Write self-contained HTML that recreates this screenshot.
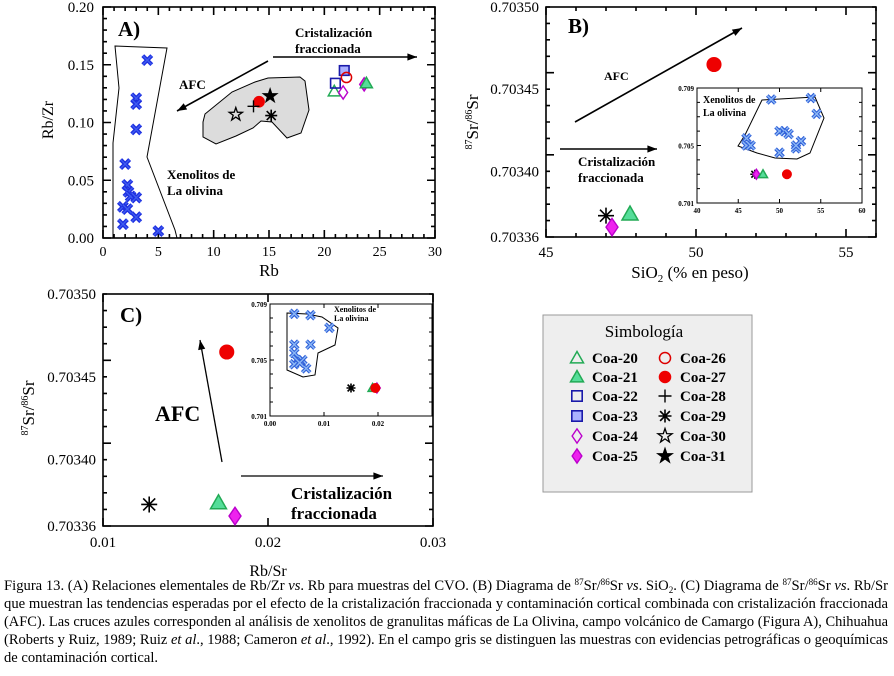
<!DOCTYPE html>
<html><head><meta charset="utf-8">
<style>
html,body{margin:0;padding:0;background:#fff;}
svg{display:block;font-family:"Liberation Serif",serif;}
</style></head>
<body>
<svg id="fig" width="894" height="676" viewBox="0 0 894 676" xmlns="http://www.w3.org/2000/svg">
<g id="layer"></g>
<g>
  <rect x="543" y="315" width="209" height="177" fill="#eeeeee" stroke="#999" stroke-width="1"/>
  <text x="644" y="337" font-size="17" text-anchor="middle">Simbología</text>
  <g id="legendItems"></g>
</g>
<g font-size="14.5" fill="#000">
  <text x="4" y="590" textLength="884" lengthAdjust="spacingAndGlyphs">Figura 13. (A) Relaciones elementales de Rb/Zr <tspan font-style="italic">vs</tspan>. Rb para muestras del CVO. (B) Diagrama de <tspan font-size="9" dy="-5">87</tspan><tspan dy="5">Sr/</tspan><tspan font-size="9" dy="-5">86</tspan><tspan dy="5">Sr </tspan><tspan font-style="italic">vs</tspan>. SiO<tspan font-size="9" dy="3">2</tspan><tspan dy="-3">. (C) Diagrama de </tspan><tspan font-size="9" dy="-5">87</tspan><tspan dy="5">Sr/</tspan><tspan font-size="9" dy="-5">86</tspan><tspan dy="5">Sr </tspan><tspan font-style="italic">vs</tspan>. Rb/Sr</text>
  <text x="4" y="608" textLength="884" lengthAdjust="spacingAndGlyphs">que muestran las tendencias esperadas por el efecto de la cristalización fraccionada y contaminación cortical combinada con cristalización fraccionada</text>
  <text x="4" y="626" textLength="884" lengthAdjust="spacingAndGlyphs">(AFC). Las cruces azules corresponden al análisis de xenolitos de granulitas máficas de La Olivina, campo volcánico de Camargo (Figura A), Chihuahua</text>
  <text x="4" y="644" textLength="884" lengthAdjust="spacingAndGlyphs">(Roberts y Ruiz, 1989; Ruiz <tspan font-style="italic">et al</tspan>., 1988; Cameron <tspan font-style="italic">et al</tspan>., 1992). En el campo gris se distinguen las muestras con evidencias petrográficas o geoquímicas</text>
  <text x="4" y="662" textLength="154" lengthAdjust="spacingAndGlyphs">de contaminación cortical.</text>
</g>
</svg>
<script>
// ---------- DATA ----------
// Panel A: Rb vs Rb/Zr
const aXenoRb   = [4, 3, 3, 3, 2, 2.2, 2.3, 2.5, 3, 1.8, 2.2, 3, 1.8, 5];
const aXenoRbZr = [0.154, 0.121, 0.116, 0.094, 0.064, 0.046, 0.040, 0.036, 0.035, 0.027, 0.025, 0.018, 0.012, 0.006];
const aSamples  = ['Coa-20','Coa-22','Coa-23','Coa-24','Coa-25','Coa-21','Coa-26','Coa-27','Coa-28','Coa-29','Coa-30','Coa-31'];
const aRb       = [20.9, 21.0, 21.8, 21.7, 23.6, 23.8, 22.0, 14.1, 13.6, 15.2, 12.0, 15.1];
const aRbZr     = [0.127, 0.134, 0.145, 0.126, 0.133, 0.134, 0.139, 0.118, 0.114, 0.106, 0.107, 0.123];
// Panel B: SiO2 vs 87Sr/86Sr
const bSamples  = ['Coa-29','Coa-21','Coa-25','Coa-27'];
const bSiO2     = [47.0, 47.8, 47.2, 50.6];
const bSr       = [0.703373, 0.703374, 0.703366, 0.703465];
const bInXenoSi = [46, 46, 46.5, 49, 50, 50.6, 51.1, 50, 52, 52.6, 52, 53.8, 54.5];
const bInXenoSr = [0.7055, 0.7050, 0.7050, 0.7082, 0.7060, 0.7060, 0.7058, 0.7045, 0.7048, 0.7053, 0.7050, 0.7083, 0.7072];
const bInSamples= ['Coa-29','Coa-25','Coa-21','Coa-27'];
const bInSi     = [47.0, 47.2, 48.0, 50.9];
const bInSr     = [0.7030, 0.7030, 0.7030, 0.7030];
// Panel C: Rb/Sr vs 87Sr/86Sr
const cSamples  = ['Coa-29','Coa-21','Coa-25','Coa-27'];
const cRbSr     = [0.0128, 0.0170, 0.0180, 0.0175];
const cSr       = [0.703373, 0.703374, 0.703366, 0.703465];
const cInXenoRbSr=[0.0045, 0.0075, 0.011, 0.0045, 0.0075, 0.0045, 0.005, 0.006, 0.0045, 0.0067, 0.0055];
const cInXenoSr = [0.7083, 0.7082, 0.7073, 0.7061, 0.7061, 0.7055, 0.7050, 0.7050, 0.7047, 0.7044, 0.7048];
const cInSamples= ['Coa-29','Coa-21','Coa-25','Coa-27'];
const cInRbSr   = [0.0150, 0.0190, 0.0198, 0.0195];
const cInSr     = [0.7030, 0.7030, 0.7030, 0.7030];
// Tick labels
const aXTicks = [0,5,10,15,20,25,30];
const aYTicks = [0.00,0.05,0.10,0.15,0.20];
const bXTicks = [45,50,55];
const srTicks = [0.70336,0.70340,0.70345,0.70350];
const cXTicks = [0.01,0.02,0.03];

// ---------- helpers ----------
const NS='http://www.w3.org/2000/svg';
const layer=document.getElementById('layer');
function el(tag,attrs,parent){const e=document.createElementNS(NS,tag);for(const k in attrs)e.setAttribute(k,attrs[k]);(parent||layer).appendChild(e);return e;}
function lin(d0,d1,r0,r1){return v=>r0+(v-d0)*(r1-r0)/(d1-d0);}
const STY={
 'Coa-20':{t:'tri',f:'none',s:'#22aa55'},
 'Coa-21':{t:'tri',f:'#55dd99',s:'#22aa55'},
 'Coa-22':{t:'sq',f:'none',s:'#1a1aaa'},
 'Coa-23':{t:'sq',f:'#aab0ff',s:'#1a1aaa'},
 'Coa-24':{t:'dia',f:'none',s:'#bb00cc'},
 'Coa-25':{t:'dia',f:'#ee22ee',s:'#bb00cc'},
 'Coa-26':{t:'circ',f:'none',s:'#dd0000'},
 'Coa-27':{t:'circ',f:'#ee0000',s:'#ee0000'},
 'Coa-28':{t:'plus',f:'none',s:'#000'},
 'Coa-29':{t:'ast',f:'none',s:'#000'},
 'Coa-30':{t:'star',f:'none',s:'#000'},
 'Coa-31':{t:'star',f:'#000',s:'#000'}
};
function marker(type,x,y,r,fill,stroke,parent,light){
 let e;
 if(type==='tri'){e=el('polygon',{points:`${x},${y-r} ${x+r},${y+r*0.75} ${x-r},${y+r*0.75}`,fill:fill,stroke:stroke,'stroke-width':1.5},parent);}
 else if(type==='sq'){e=el('rect',{x:x-r*0.8,y:y-r*0.8,width:r*1.6,height:r*1.6,fill:fill,stroke:stroke,'stroke-width':1.6},parent);}
 else if(type==='dia'){e=el('polygon',{points:`${x},${y-r*1.1} ${x+r*0.75},${y} ${x},${y+r*1.1} ${x-r*0.75},${y}`,fill:fill,stroke:stroke,'stroke-width':1.4},parent);}
 else if(type==='circ'){e=el('circle',{cx:x,cy:y,r:r*0.85,fill:fill,stroke:stroke,'stroke-width':1.5},parent);}
 else if(type==='plus'){e=el('path',{d:`M${x-r} ${y}H${x+r}M${x} ${y-r}V${y+r}`,stroke:stroke,'stroke-width':1.4,fill:'none'},parent);}
 else if(type==='ast'){const a=r*0.75;e=el('path',{d:`M${x-r} ${y}H${x+r}M${x} ${y-r}V${y+r}M${x-a} ${y-a}L${x+a} ${y+a}M${x-a} ${y+a}L${x+a} ${y-a}`,stroke:stroke,'stroke-width':1.6,fill:'none'},parent);}
 else if(type==='star'){let p=[];for(let i=0;i<10;i++){const rr=i%2?r*0.45:r*1.15;const an=-Math.PI/2+i*Math.PI/5;p.push((x+rr*Math.cos(an)).toFixed(1)+','+(y+rr*Math.sin(an)).toFixed(1));}e=el('polygon',{points:p.join(' '),fill:fill,stroke:stroke,'stroke-width':1.3},parent);}
 else if(type==='xeno'){e=el('g',{},parent);
   if(light){el('path',{d:`M${x-r} ${y-r}L${x+r} ${y+r}M${x-r} ${y+r}L${x+r} ${y-r}`,stroke:'#2f5fd8','stroke-width':r*0.9,fill:'none'},e);el('path',{d:`M${x-r} ${y-r}L${x+r} ${y+r}M${x-r} ${y+r}L${x+r} ${y-r}`,stroke:'#8cb8f5','stroke-width':r*0.35,fill:'none'},e);}
   else{el('path',{d:`M${x-r} ${y-r}L${x+r} ${y+r}M${x-r} ${y+r}L${x+r} ${y-r}`,stroke:'#1d2ee0','stroke-width':r*0.9,fill:'none'},e);el('path',{d:`M${x-r} ${y-r}L${x+r} ${y+r}M${x-r} ${y+r}L${x+r} ${y-r}`,stroke:'#3f5cf0','stroke-width':r*0.3,fill:'none'},e);}
 }
 return e;
}
// frame with inward ticks on all 4 sides
function frame(g,X,Y,x0,x1,y0,y1,xMaj,xMin,yMaj,yMin,L,l,sw){
 el('rect',{x:X(x0),y:Y(y1),width:X(x1)-X(x0),height:Y(y0)-Y(y1),fill:'none',stroke:'#000','stroke-width':sw},g);
 let d='';
 const nx=Math.round((x1-x0)/xMin), ny=Math.round((y1-y0)/yMin);
 const rx=Math.round(xMaj/xMin), ry=Math.round(yMaj/yMin);
 for(let i=0;i<=nx;i++){const v=x0+i*xMin;const len=(i%rx===0)?L:l;const px=X(v);d+=`M${px} ${Y(y0)}v${-len}M${px} ${Y(y1)}v${len}`;}
 for(let i=0;i<=ny;i++){const v=y0+i*yMin;const len=(i%ry===0)?L:l;const py=Y(v);d+=`M${X(x0)} ${py}h${len}M${X(x1)} ${py}h${-len}`;}
 el('path',{d:d,stroke:'#000','stroke-width':sw,fill:'none'},g);
}
function txt(g,x,y,s,attrs){const t=el('text',Object.assign({x:x,y:y},attrs||{}),g);t.textContent=s;return t;}
function arrow(g,x1,y1,x2,y2,w,h){
 el('line',{x1:x1,y1:y1,x2:x2,y2:y2,stroke:'#000','stroke-width':w},g);
 const a=Math.atan2(y2-y1,x2-x1),L=h*1.6,W=h*0.6;
 const bx=x2-L*Math.cos(a),by=y2-L*Math.sin(a);
 el('polygon',{points:`${x2},${y2} ${bx+W*Math.sin(a)},${by-W*Math.cos(a)} ${bx-W*Math.sin(a)},${by+W*Math.cos(a)}`,fill:'#000'},g);
}

// ---------- PANEL A ----------
(function(){
 const g=el('g',{});
 
 
 const X=lin(0,30,103,435),Y=lin(0,0.2,238,7);
 el('polygon',{points:'115,46 167,48 147,157 175,230 177,238 113,238 113,143 119,88',fill:'none',stroke:'#000','stroke-width':1},g);
 el('polygon',{points:'203,122 205,114 232,92 255,82 268,78 300,77 305,81 309,110 301,133 287,138 272,122 261,121 253,128 236,136 216,144 203,137',fill:'#dcdcdc',stroke:'#000','stroke-width':1},g);
 frame(g,X,Y,0,30,0,0.2,5,1,0.05,0.01,8,4,1.6);
 aXTicks.forEach(v=>{const t=txt(g,X(v),256,String(v),{'font-size':14,'text-anchor':'middle'});});
 aYTicks.forEach(v=>{const t=txt(g,94,Y(v)+5,v.toFixed(2),{'font-size':15,'text-anchor':'end'});});
 const xl=txt(g,269,276,'Rb',{'font-size':17,'text-anchor':'middle'});
 const yl=txt(g,0,0,'Rb/Zr',{'font-size':16,'text-anchor':'middle',transform:'translate(53,120) rotate(-90)'});
 const pl=txt(g,118,36,'A)',{'font-size':21,'font-weight':'bold'});
 aXenoRb.forEach((v,i)=>{const m=marker('xeno',X(v),Y(aXenoRbZr[i]),4.5,null,null,g,false);});
 aRb.forEach((v,i)=>{const s=STY[aSamples[i]];const m=marker(s.t,X(v),Y(aRbZr[i]),6,s.f,s.s,g);});
 arrow(g,268,61,177,111,1.6,6);
 arrow(g,273,57,417,57,1.6,6);
 txt(g,295,37,'Cristalización',{'font-size':13,'font-weight':'bold'});
 txt(g,295,53,'fraccionada',{'font-size':13,'font-weight':'bold'});
 txt(g,179,89,'AFC',{'font-size':13,'font-weight':'bold'});
 txt(g,167,179,'Xenolitos de',{'font-size':13,'font-weight':'bold'});
 txt(g,167,195,'La olivina',{'font-size':13,'font-weight':'bold'});
})();

// ---------- PANEL B ----------
(function(){
 const g=el('g',{});
 
 
 const X=lin(45,56,546,876),Y=lin(0.70336,0.7035,237,7);
 frame(g,X,Y,45,56,0.70336,0.7035,5,1,0.00005,0.00001,8,4,1.6);
 bXTicks.forEach(v=>{const t=txt(g,X(v),257,String(v),{'font-size':15,'text-anchor':'middle'});});
 srTicks.forEach(v=>{const t=txt(g,539,Y(v)+5,v.toFixed(5),{'font-size':15,'text-anchor':'end'});});
 const xl=el('text',{x:690,y:278,'font-size':17,'text-anchor':'middle'},g);xl.innerHTML='SiO<tspan font-size="11" dy="4">2</tspan><tspan dy="-4"> (% en peso)</tspan>';
 
 const yl=el('text',{'font-size':17,'text-anchor':'middle',transform:'translate(478,122) rotate(-90)'},g);yl.innerHTML='<tspan font-size="10" dy="-6">87</tspan><tspan dy="6">Sr/</tspan><tspan font-size="10" dy="-6">86</tspan><tspan dy="6">Sr</tspan>';
 
 const pl=txt(g,568,33,'B)',{'font-size':21,'font-weight':'bold'});
 arrow(g,575,122,742,28,1.6,6);
 arrow(g,560,149,657,149,1.6,6);
 txt(g,604,80,'AFC',{'font-size':12,'font-weight':'bold'});
 txt(g,578,166,'Cristalización',{'font-size':13,'font-weight':'bold'});
 txt(g,578,182,'fraccionada',{'font-size':13,'font-weight':'bold'});
 bSiO2.forEach((v,i)=>{const s=STY[bSamples[i]];const m=marker(s.t,X(v),Y(bSr[i]),8,s.f,s.s,g);});
 // inset
 const ig=el('g',{},g);
 
 
 const IX=lin(40,60,697,862),IY=lin(0.701,0.709,203,88);
 el('rect',{x:697,y:88,width:165,height:115,fill:'#fff',stroke:'none'},ig);
 frame(ig,IX,IY,40,60,0.701,0.709,5,5,0.004,0.001,4,3,1);
 [40,45,50,55,60].forEach(v=>txt(ig,IX(v),213,String(v),{'font-size':7,'font-weight':'bold','text-anchor':'middle'}));
 [0.701,0.705,0.709].forEach(v=>txt(ig,694,IY(v)+3,v.toFixed(3),{'font-size':7,'font-weight':'bold','text-anchor':'end'}));
 el('polygon',{points:'738,146 745,135 762,100 815,97 824,118 810,153 797,159 775,158 757,153',fill:'none',stroke:'#000','stroke-width':1},ig);
 txt(ig,703,103,'Xenolitos de',{'font-size':10,'font-weight':'bold'});
 txt(ig,703,116,'La olivina',{'font-size':10,'font-weight':'bold'});
 bInXenoSi.forEach((v,i)=>{const m=marker('xeno',IX(v),IY(bInXenoSr[i]),4,null,null,ig,true);});
 bInSi.forEach((v,i)=>{const s=STY[bInSamples[i]];const m=marker(s.t,IX(v),IY(bInSr[i]),s.t==='circ'?5:4.5,s.f,s.s,ig);});
})();

// ---------- PANEL C ----------
(function(){
 const g=el('g',{});
 
 
 const X=lin(0.01,0.03,103,433),Y=lin(0.70336,0.7035,526,294);
 frame(g,X,Y,0.01,0.03,0.70336,0.7035,0.01,0.01,0.00005,0.00001,8,4,1.6);
 cXTicks.forEach(v=>{const t=txt(g,X(v),547,v.toFixed(2),{'font-size':15,'text-anchor':'middle'});});
 srTicks.forEach(v=>{const t=txt(g,96,Y(v)+5,v.toFixed(5),{'font-size':15,'text-anchor':'end'});});
 const xl=txt(g,268,576,'Rb/Sr',{'font-size':16,'text-anchor':'middle'});
 const yl=el('text',{'font-size':17,'text-anchor':'middle',transform:'translate(34,408) rotate(-90)'},g);yl.innerHTML='<tspan font-size="10" dy="-6">87</tspan><tspan dy="6">Sr/</tspan><tspan font-size="10" dy="-6">86</tspan><tspan dy="6">Sr</tspan>';
 
 const pl=txt(g,120,322,'C)',{'font-size':21,'font-weight':'bold'});
 arrow(g,222,462,200,340,1.3,6);
 arrow(g,241,476,383,476,1.3,6);
 txt(g,155,421,'AFC',{'font-size':22,'font-weight':'bold'});
 txt(g,291,499,'Cristalización',{'font-size':17,'font-weight':'bold'});
 txt(g,291,519,'fraccionada',{'font-size':17,'font-weight':'bold'});
 cRbSr.forEach((v,i)=>{const s=STY[cSamples[i]];const m=marker(s.t,X(v),Y(cSr[i]),8,s.f,s.s,g);});
 const ig=el('g',{},g);
 
 
 const IX=lin(0,0.03,270,432),IY=lin(0.701,0.709,416,304);
 el('rect',{x:270,y:304,width:162,height:112,fill:'#fff',stroke:'none'},ig);
 frame(ig,IX,IY,0,0.03,0.701,0.709,0.01,0.01,0.004,0.001,4,3,1);
 [0,0.01,0.02].forEach(v=>txt(ig,IX(v),426,v.toFixed(2),{'font-size':7,'font-weight':'bold','text-anchor':'middle'}));
 [0.701,0.705,0.709].forEach(v=>txt(ig,267,IY(v)+3,v.toFixed(3),{'font-size':7,'font-weight':'bold','text-anchor':'end'}));
 el('polygon',{points:'287,313 307,314 322,317 338,328 335,345 318,353 315,375 303,377 287,370',fill:'none',stroke:'#000','stroke-width':1},ig);
 txt(ig,334,312,'Xenolitos de',{'font-size':8,'font-weight':'bold'});
 txt(ig,334,321,'La olivina',{'font-size':8,'font-weight':'bold'});
 cInXenoRbSr.forEach((v,i)=>{const m=marker('xeno',IX(v),IY(cInXenoSr[i]),4,null,null,ig,true);});
 cInRbSr.forEach((v,i)=>{const s=STY[cInSamples[i]];const m=marker(s.t,IX(v),IY(cInSr[i]),s.t==='circ'?5:4.5,s.f,s.s,ig);});
})();

// ---------- LEGEND ----------
const legCol1=['Coa-20','Coa-21','Coa-22','Coa-23','Coa-24','Coa-25'];
const legCol2=['Coa-26','Coa-27','Coa-28','Coa-29','Coa-30','Coa-31'];
(function(){
 const lg=document.getElementById('legendItems');
 const rows=[363,382,401,421,441,461];
 [[legCol1,577,592],[legCol2,665,680]].forEach(([col,sx,tx])=>{
  col.forEach((n,i)=>{
   const g=el('g',{},lg);
   
   
   const s=STY[n];
   marker(s.t,sx,rows[i]-5,6.5,s.f,s.s,g);
   txt(g,tx,rows[i],n,{'font-size':15,'font-weight':'bold'});
  });
 });
})();
</script>
</body></html>
